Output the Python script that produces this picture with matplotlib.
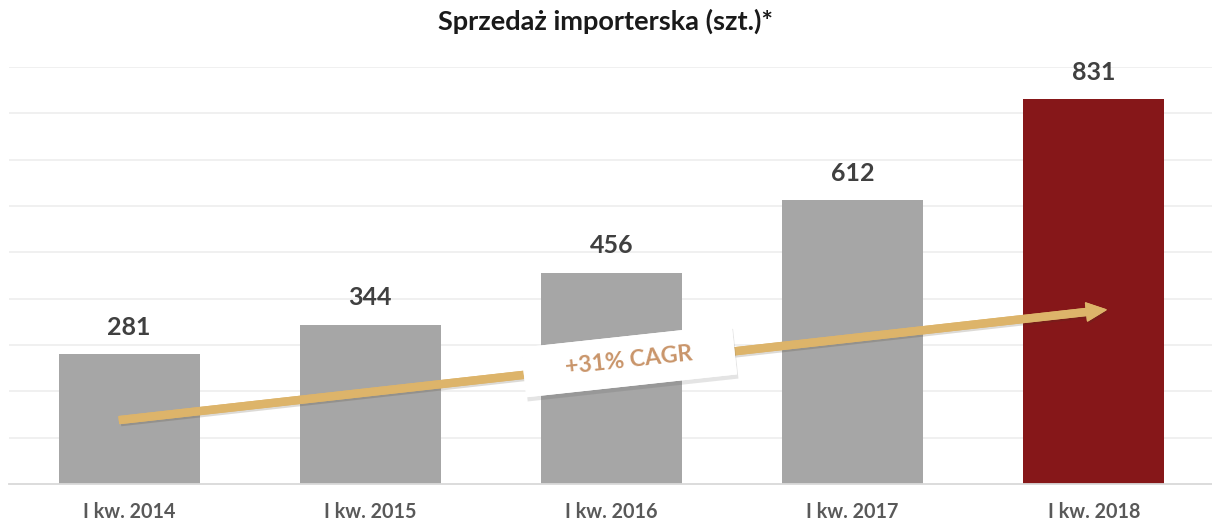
import matplotlib.pyplot as plt
import matplotlib.patches as mpatches
import matplotlib.transforms as mtransforms
import matplotlib.patheffects as pe
import numpy as np

plt.rcParams['font.family'] = ['Lato', 'DejaVu Sans']

categories = ['I kw. 2014', 'I kw. 2015', 'I kw. 2016', 'I kw. 2017', 'I kw. 2018']
values = [281, 344, 456, 612, 831]
bar_colors = ['#A6A6A6', '#A6A6A6', '#A6A6A6', '#A6A6A6', '#861719']
title = 'Sprzedaż importerska (szt.)*'
cagr_label = '+31% CAGR'

W, H = 1212, 524
fig = plt.figure(figsize=(W / 100, H / 100), dpi=100)
ax = fig.add_axes([8.5 / W, 40 / H, 0.995, 417 / H])

x = np.arange(len(categories))
ax.bar(x, values, width=0.585, color=bar_colors, zorder=2)

# value labels above bars
for xi, v in zip(x, values):
    ax.annotate(str(v), (xi, v), xytext=(0, 11), textcoords='offset points',
                ha='center', va='bottom', fontsize=18, fontweight='bold', color='#404040')

ax.set_xlim(-0.5, 4.5)
ax.set_ylim(0, 900)
ax.set_yticks(np.arange(100, 901, 100))
ax.yaxis.grid(True, color='#EFEFEF', lw=1.3, zorder=0)
ax.set_axisbelow(True)
ax.tick_params(axis='y', left=False, labelleft=False)
ax.set_xticks(x)
ax.set_xticklabels(categories, fontsize=14.2, fontweight='bold', color='#595959')
ax.tick_params(axis='x', length=0, pad=13)
for s in ['top', 'right', 'left']:
    ax.spines[s].set_visible(False)
ax.spines['bottom'].set_color('#D9D9D9')
ax.spines['bottom'].set_linewidth(1.3)

fig.text(0.5, 1 - 21 / H, title, ha='center', va='center',
         fontsize=19.5, fontweight='bold', color='#1a1a1a')

# trend arrow
arr = ax.annotate('', xy=(4.05, 376), xytext=(-0.04, 138),
                  arrowprops=dict(arrowstyle='simple,head_width=1.3,head_length=1.4,tail_width=0.5',
                                  mutation_scale=10, color='#DDB46A', shrinkA=0, shrinkB=0),
                  zorder=4)
arr.arrow_patch.set_path_effects([pe.withSimplePatchShadow(offset=(1, -2), alpha=0.18), pe.Normal()])

# CAGR box
cx, cy = 629, H - 361
bw, bh = 212, 50
rot = mtransforms.Affine2D().rotate_deg_around(cx, cy, 6.2)
box = mpatches.Rectangle((cx - bw / 2, cy - bh / 2), bw, bh, facecolor='white',
                         edgecolor='none', transform=rot, zorder=5)
box.set_path_effects([pe.withSimplePatchShadow(offset=(1, -3), alpha=0.15), pe.Normal()])
fig.add_artist(box)
fig.text(cx / W, cy / H, cagr_label, ha='center', va='center', rotation=6.2,
         rotation_mode='anchor', fontsize=16.7, fontweight='bold', color='#C9956A', zorder=6)

fig.savefig('out.png', dpi=100)
